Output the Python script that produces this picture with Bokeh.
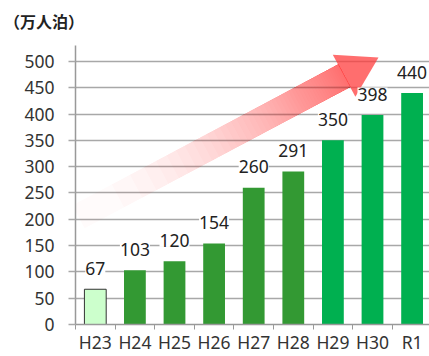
from bokeh.plotting import figure
from bokeh.models import (ColumnDataSource, LabelSet, FixedTicker, Range1d, Div)
from bokeh.layouts import column
from bokeh.core.properties import value
from bokeh.embed import file_html
from bokeh.resources import INLINE
import math

# ---- data ----
categories = ["H23", "H24", "H25", "H26", "H27", "H28", "H29", "H30", "R1"]
values = [67, 103, 120, 154, 260, 291, 350, 398, 440]
bar_colors = ["#ccffcc", "#339933", "#339933", "#339933", "#339933", "#339933",
              "#00b050", "#00b050", "#00b050"]
outline_colors = ["#333333"] + [None] * 8
y_ticks = list(range(0, 501, 50))
unit_label = "（万人泊）"

FONT = "Noto Sans"
CJK = "Noto Sans CJK JP"

xs = list(range(len(categories)))
src = ColumnDataSource(dict(x=xs, top=values, color=bar_colors,
                            line=outline_colors,
                            label=[str(v) for v in values]))

X0PX, XSTEP = 94.8, 39.6      # pixel of category 0, px per category
Y0PX, YSCALE = 325.0, 0.528   # pixel of value 0 (page), px per unit
FRAME_TOP = 45                # page pixel of the plot frame top
W, H = 429, 356

# unit title above the plot
title_div = Div(text='<div style="padding:13px 0 0 4px; font-family:\'%s\'; '
                     'font-size:16px; line-height:16px; font-weight:bold; '
                     'color:#222222; white-space:nowrap;">%s</div>' % (CJK, unit_label),
                width=W, height=FRAME_TOP, margin=0)

p = figure(width=W, height=H - FRAME_TOP, output_backend="svg", toolbar_location=None,
           x_range=Range1d(-0.5, -0.5 + (W - 75) / XSTEP),
           y_range=Range1d(0, (Y0PX - FRAME_TOP) / YSCALE),
           min_border_left=75, min_border_right=0, min_border_top=0,
           min_border_bottom=31, margin=0)
p.outline_line_color = None
p.background_fill_color = "white"
p.border_fill_color = "white"

# grid
p.xgrid.grid_line_color = None
p.ygrid.ticker = FixedTicker(ticks=y_ticks)
p.ygrid.grid_line_color = "#a8a8a8"
p.ygrid.grid_line_width = 1.5

# ---- decorative gradient arrow (pixel geometry converted to data) ----
def to_data(px, py):
    return (px - X0PX) / XSTEP, (Y0PX - py) / YSCALE

tail = (78.0, 217.0)
tip = (378.0, 57.0)
dx, dy = tip[0] - tail[0], tip[1] - tail[1]
L = math.hypot(dx, dy)
ux, uy = dx / L, dy / L
nx, ny = -uy, ux
head_len, head_hw, shaft_hw = 39.0, 24.0, 13.0
shaft_len = L - head_len
ARROW = "#ff3c3c"
AMAX, POW, N = 0.66, 1.8, 50
a = 1 - (1 - AMAX) ** (1.0 / N)
qx, qy = [], []
for k in range(N):
    s0 = shaft_len * ((1 - (1 - a) ** k) / AMAX) ** (1.0 / POW)
    pts = []
    for s, sgn in ((s0, -1), (shaft_len + 0.6, -1), (shaft_len + 0.6, 1), (s0, 1)):
        px = tail[0] + ux * s + nx * shaft_hw * sgn
        py = tail[1] + uy * s + ny * shaft_hw * sgn
        pts.append(to_data(px, py))
    qx.append([pt[0] for pt in pts])
    qy.append([pt[1] for pt in pts])
p.patches(qx, qy, fill_color=ARROW, fill_alpha=a, line_color=None)
bx = tail[0] + ux * shaft_len
by = tail[1] + uy * shaft_len
hp = [to_data(bx + nx * head_hw, by + ny * head_hw),
      to_data(tip[0], tip[1]),
      to_data(bx - nx * head_hw, by - ny * head_hw)]
p.patch([h[0] for h in hp], [h[1] for h in hp], fill_color=ARROW,
        fill_alpha=0.74, line_color=None)

# bars
p.vbar(x="x", top="top", width=0.55, bottom=0, source=src,
       fill_color="color", line_color="line", line_width=1)

# value labels
labels = LabelSet(x="x", y="top", text="label", source=src,
                  text_align="center", text_baseline="middle", y_offset=21,
                  text_font=value(FONT), text_font_size=value("17.5px"),
                  text_color="#222222", background_fill_color="white")
p.add_layout(labels)

# axes
p.xaxis.ticker = FixedTicker(ticks=xs, minor_ticks=[i - 0.5 for i in range(len(categories) + 1)])
p.xaxis.major_label_overrides = {i: c for i, c in enumerate(categories)}
p.xaxis.major_tick_out = 0
p.xaxis.major_tick_in = 0
p.xaxis.minor_tick_out = 5
p.xaxis.minor_tick_in = 0
p.xaxis.minor_tick_line_color = "#999999"
p.xaxis.axis_line_color = "#999999"
p.xaxis.axis_line_width = 1.5
p.xaxis.major_label_text_font = FONT
p.xaxis.major_label_text_font_size = "17.5px"
p.xaxis.major_label_text_color = "#333333"
p.xaxis.major_label_standoff = 0

p.yaxis.ticker = FixedTicker(ticks=y_ticks)
p.yaxis.major_tick_out = 7
p.yaxis.major_tick_in = 0
p.yaxis.major_tick_line_color = "#a8a8a8"
p.yaxis.major_tick_line_width = 1.5
p.yaxis.minor_tick_line_color = None
p.yaxis.axis_line_color = "#999999"
p.yaxis.axis_line_width = 1.5
p.yaxis.major_label_text_font = FONT
p.yaxis.major_label_text_font_size = "17.5px"
p.yaxis.major_label_text_color = "#333333"
p.yaxis.major_label_standoff = 14

layout = column(title_div, p, spacing=0, margin=0)
open("out.html", "w").write(file_html(layout, INLINE))
